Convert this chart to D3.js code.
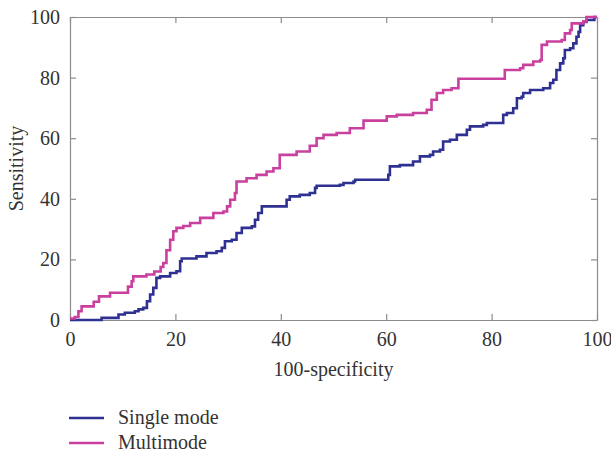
<!DOCTYPE html>
<html>
<head>
<meta charset="utf-8">
<script src="https://cdn.jsdelivr.net/npm/d3@7/dist/d3.min.js"></script>
<style>
	body { margin: 0; background: #fff; }
	text { font-family: "Liberation Serif", "DejaVu Serif", serif; fill: #333; font-size: 20px; }
</style>
</head>
<body>
<svg id="chart" width="611" height="453"></svg>
<script>
// ROC points (step after each point)
const singleX = [0, 6, 9.2, 10.4, 12.3, 13, 13.9, 14.6, 15.2, 15.8, 16.4, 17.1, 19, 20.2, 20.9, 21.2, 24, 25.9, 27.8, 28.8, 29.4, 30.7, 31.6, 32.6, 34.5, 35.1, 35.7, 36.4, 41.1, 41.7, 43.6, 45.5, 46.5, 46.8, 51.2, 51.9, 53.8, 54.1, 60.4, 60.7, 62.6, 65.1, 66.4, 68.3, 68.9, 70.2, 70.8, 72.1, 73.4, 75.3, 75.9, 78.4, 79.1, 82.2, 82.9, 84.1, 84.8, 85.7, 86, 87.3, 89.8, 91.1, 91.7, 92.3, 93, 93.6, 93.9, 94.9, 95.5, 96.1, 96.5, 96.8, 97.4, 98, 99.5, 100];
const singleY = [0, 0.7, 1.8, 2.4, 2.9, 3.5, 4, 6.2, 8.4, 10.6, 13.9, 14.4, 15.5, 16.1, 19.4, 20.3, 21, 22.1, 22.7, 23.8, 26, 26.5, 28.7, 30.4, 30.9, 33.1, 35.3, 37.5, 39.7, 40.8, 41.3, 41.9, 43.6, 44.3, 44.6, 45.2, 45.7, 46.3, 47.9, 50.7, 51.1, 52.3, 54, 54.5, 55.6, 56.2, 58.9, 59.5, 61.1, 62.8, 63.9, 64.4, 65, 67.7, 68.3, 69.9, 73.2, 73.7, 74.9, 75.9, 76.5, 78.2, 79.3, 82.5, 84.7, 86.4, 89.1, 89.7, 91.3, 93.5, 95.1, 97.3, 98.4, 99, 100, 100];

const multiX = [0, 0.9, 1.6, 2.2, 4.5, 5.5, 7.6, 11, 11.7, 12, 14.5, 16, 17.2, 17.7, 18.3, 19, 19.6, 20.2, 21.5, 22.8, 24.7, 27.2, 29.1, 29.8, 30.4, 31.3, 31.6, 33.5, 35.4, 37.3, 38.6, 39.8, 43, 45.5, 46.8, 48.1, 50.6, 53.1, 55.7, 60.1, 62, 65.1, 67.7, 68.6, 69.6, 70.8, 72.4, 73.7, 82.5, 85.4, 86, 87.9, 89.2, 89.5, 90.5, 93.3, 93.9, 94.9, 95.2, 97.4, 98, 100];
const multiY = [0.5, 1, 2.9, 4.5, 6, 7.8, 9, 11, 12.8, 14.4, 15, 16, 17.5, 18.8, 23, 26.5, 29.3, 30.4, 31, 32, 33.7, 35.3, 35.8, 37.5, 39.7, 41.9, 45.7, 46.8, 47.9, 49, 50.1, 54.5, 55.6, 57.5, 60, 61.1, 61.7, 63.3, 65.8, 67.2, 67.7, 68.3, 69.4, 72.7, 74.9, 75.9, 76.5, 79.6, 82.5, 83.1, 84.2, 85.3, 85.8, 90.8, 91.9, 92.4, 94.6, 95.7, 97.9, 98.5, 100, 100];

const xTicks = [0, 20, 40, 60, 80, 100];
const yTicks = [0, 20, 40, 60, 80, 100];
const seriesNames = ["Single mode", "Multimode"];
const seriesColors = ["#2e3192", "#c9409f"];

const svg = d3.select("#chart");
const plotLeft = 70, plotRight = 597, plotTop = 17, plotBottom = 320;

const x = d3.scaleLinear().domain([0, 100]).range([plotLeft, plotRight]);
const y = d3.scaleLinear().domain([0, 100]).range([plotBottom, plotTop]);

const axisColor = "#8c8c8c";

// frame with inward ticks on all sides
function styleAxis(g) {
	g.attr("font-family", null).attr("font-size", null);
	g.select(".domain").attr("stroke", axisColor).attr("stroke-width", 1.2);
	g.selectAll(".tick line").attr("stroke", axisColor).attr("stroke-width", 1.2);
	g.selectAll(".tick text").attr("fill", "#333");
}

svg.append("g")
	.attr("transform", `translate(0,${plotBottom})`)
	.call(d3.axisBottom(x).tickValues(xTicks).tickSize(-6).tickSizeOuter(0).tickPadding(12))
	.call(styleAxis);

svg.append("g")
	.attr("transform", `translate(0,${plotTop})`)
	.call(d3.axisTop(x).tickValues(xTicks).tickSize(-6).tickSizeOuter(0).tickFormat(""))
	.call(styleAxis);

svg.append("g")
	.attr("transform", `translate(${plotLeft},0)`)
	.call(d3.axisLeft(y).tickValues(yTicks).tickSize(-6).tickSizeOuter(0).tickPadding(10))
	.call(styleAxis);

svg.append("g")
	.attr("transform", `translate(${plotRight},0)`)
	.call(d3.axisRight(y).tickValues(yTicks).tickSize(-6).tickSizeOuter(0).tickFormat(""))
	.call(styleAxis);

// curves
const line = d3.line()
	.x((d) => x(d[0]))
	.y((d) => y(d[1]))
	.curve(d3.curveStepAfter);

const series = [
	d3.zip(singleX, singleY),
	d3.zip(multiX, multiY)
];

series.forEach((pts, i) => {
	svg.append("path")
		.datum(pts)
		.attr("d", line)
		.attr("fill", "none")
		.attr("stroke", seriesColors[i])
		.attr("stroke-width", 2.6)
		.attr("stroke-linejoin", "miter");
});

// axis titles
svg.append("text")
	.attr("x", (plotLeft + plotRight) / 2)
	.attr("y", 376)
	.attr("text-anchor", "middle")
	.text("100-specificity");

svg.append("text")
	.attr("transform", `translate(23,${(plotTop + plotBottom) / 2}) rotate(-90)`)
	.attr("text-anchor", "middle")
	.text("Sensitivity");

// legend
const legend = svg.append("g");
seriesNames.forEach((name, i) => {
	const ly = 418 + i * 25;
	legend.append("line")
		.attr("x1", 69).attr("x2", 104)
		.attr("y1", ly).attr("y2", ly)
		.attr("stroke", seriesColors[i])
		.attr("stroke-width", 2.6);
	legend.append("text")
		.attr("x", 118)
		.attr("y", ly + 6)
		.text(name);
});
</script>
</body>
</html>
